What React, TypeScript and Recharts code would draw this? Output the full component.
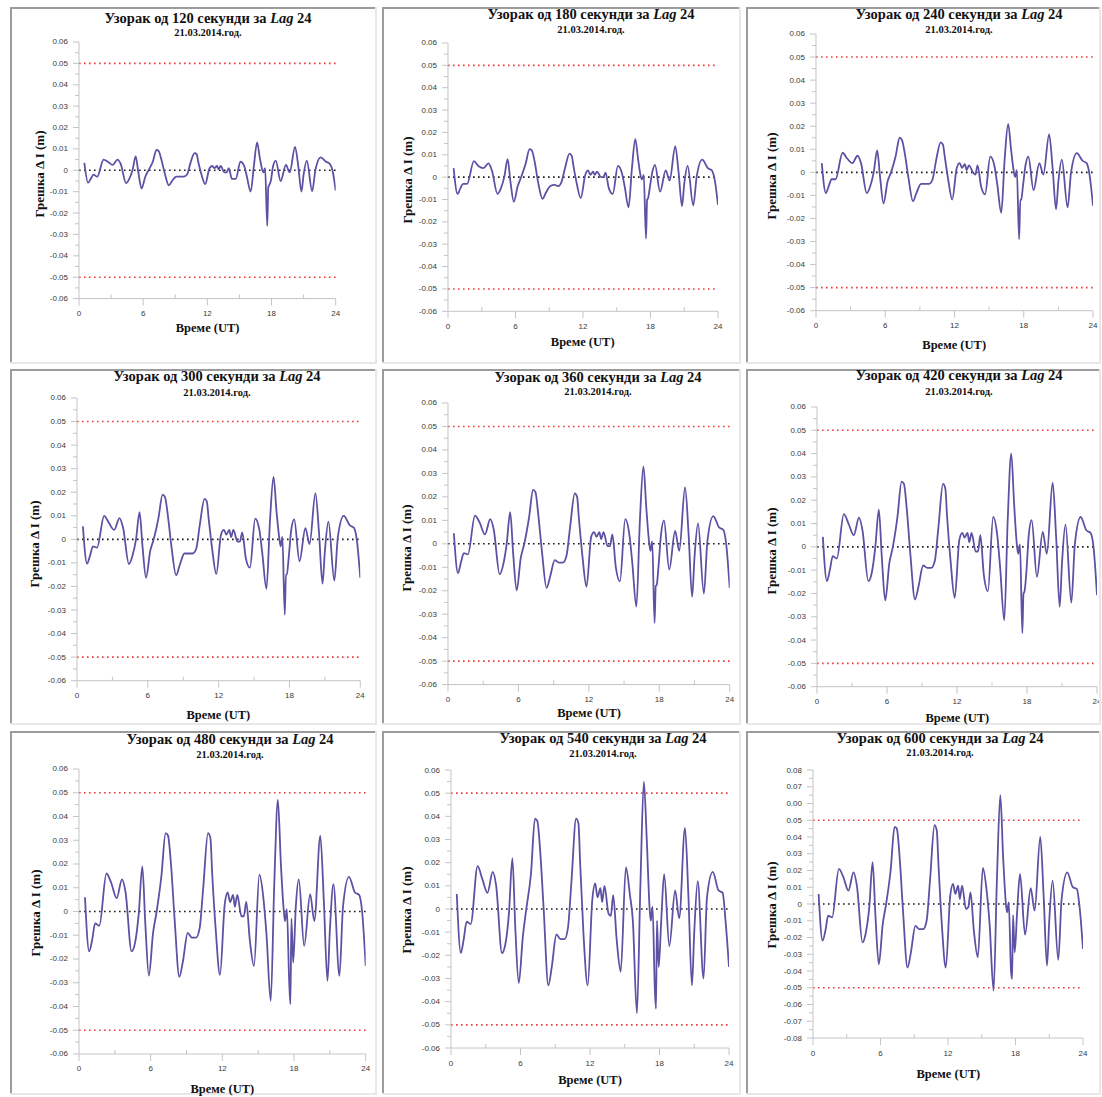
import { LineChart, Line, XAxis, YAxis, ReferenceLine } from 'recharts'

// hours (UT) shared by all series
const hours = [
  0.5, 0.85, 1.1, 1.35, 1.7, 2.3, 2.7, 3.15, 3.6, 3.9,
  4.4, 4.7, 5.0, 5.3, 5.55, 5.85, 6.2, 6.5, 6.9, 7.25,
  7.45, 7.7, 8.0, 8.4, 8.7, 9.1, 9.45, 9.8, 10.1, 10.4,
  10.8, 11.0, 11.15, 11.45, 11.8, 12.2, 12.45, 12.65, 12.9, 13.05,
  13.25, 13.6, 13.8, 14.0, 14.3, 14.65, 15.1, 15.45, 15.7, 16.05,
  16.35, 16.65, 16.9, 17.15, 17.25, 17.4, 17.6, 17.7, 17.78, 17.93,
  18.15, 18.4, 18.85, 19.35, 19.7, 20.2, 20.5, 20.8, 21.0, 21.3,
  21.8, 22.1, 22.6, 23.1, 23.45, 23.7, 24.0,
]

const s120 = [
  0.0035, -0.0058, -0.004, -0.002, -0.003, 0.005, 0.004, 0.0025, 0.005, 0.003,
  -0.006, -0.004, 0.0, 0.0065, -0.001, -0.0085, -0.003, 0.0, 0.004, 0.0095,
  0.009, 0.005, -0.001, -0.007, -0.005, -0.003, -0.003, -0.003, -0.002, 0.003,
  0.008, 0.0075, 0.004, -0.002, -0.0065, 0.001, 0.002, 0.001, 0.002, 0.0005,
  0.002, -0.001, -0.001, 0.001, -0.004, -0.004, 0.004, 0.002, -0.003, -0.01,
  0.002, 0.013, 0.006, 0.0, -0.001, 0.001, -0.026, -0.008, -0.007, -0.005,
  0.002, 0.0045, -0.005, 0.0025, -0.001, 0.011, 0.002, -0.01, -0.002, 0.0045,
  -0.0098, 0.0, 0.006, 0.004, 0.003, 0.0, -0.0095,
]

const s180 = [
  0.004, -0.0075, -0.005, -0.003, -0.003, 0.0072, 0.005, 0.004, 0.0062, 0.003,
  -0.0075, -0.005, 0.0, 0.008, -0.002, -0.011, -0.004, 0.0, 0.006, 0.0125,
  0.012, 0.007, -0.002, -0.0097, -0.007, -0.004, -0.0035, -0.004, -0.002, 0.004,
  0.0105, 0.0095, 0.005, -0.003, -0.0094, 0.001, 0.003, 0.001, 0.0025, 0.001,
  0.0025, 0.0, 0.0, 0.002, -0.005, -0.0075, 0.005, 0.002, -0.004, -0.0135,
  0.004, 0.017, 0.008, 0.0, -0.001, 0.001, -0.0275, -0.01, -0.0095, -0.005,
  0.002, 0.0055, -0.0065, 0.003, -0.0015, 0.0138, 0.002, -0.013, -0.003, 0.005,
  -0.0127, 0.0, 0.0078, 0.004, 0.003, -0.001, -0.0124,
]

const s240 = [
  0.004, -0.009, -0.006, -0.003, -0.003, 0.0085, 0.006, 0.004, 0.0072, 0.004,
  -0.009, -0.006, 0.0, 0.0095, -0.002, -0.0135, -0.004, 0.0, 0.007, 0.015,
  0.014, 0.008, -0.002, -0.0125, -0.009, -0.005, -0.005, -0.005, -0.003, 0.005,
  0.013, 0.012, 0.007, -0.003, -0.0118, 0.002, 0.004, 0.002, 0.0035, 0.001,
  0.003, 0.0, -0.001, 0.003, -0.006, -0.0095, 0.0068, 0.003, -0.005, -0.0175,
  0.006, 0.021, 0.01, 0.0, -0.002, 0.001, -0.029, -0.012, -0.012, -0.006,
  0.003, 0.0068, -0.0078, 0.004, -0.001, 0.0165, 0.002, -0.016, -0.004, 0.0055,
  -0.0152, 0.0, 0.0083, 0.005, 0.004, -0.001, -0.0145,
]

const s300 = [
  0.0055, -0.0103, -0.007, -0.003, -0.0035, 0.01, 0.007, 0.004, 0.009, 0.005,
  -0.0105, -0.007, 0.0, 0.0115, -0.003, -0.0163, -0.005, 0.0, 0.009, 0.019,
  0.018, 0.01, -0.003, -0.0152, -0.011, -0.006, -0.006, -0.006, -0.004, 0.006,
  0.0172, 0.016, 0.009, -0.004, -0.0147, 0.002, 0.004, 0.002, 0.004, 0.001,
  0.004, -0.001, -0.001, 0.003, -0.008, -0.012, 0.0088, 0.004, -0.006, -0.021,
  0.008, 0.0265, 0.012, 0.0, -0.003, 0.001, -0.032, -0.015, -0.015, -0.008,
  0.004, 0.0085, -0.0093, 0.0048, -0.002, 0.0195, 0.003, -0.0188, -0.005, 0.0075,
  -0.0175, 0.001, 0.01, 0.006, 0.005, 0.0, -0.0163,
]

const s360 = [
  0.0045, -0.0125, -0.008, -0.004, -0.0045, 0.012, 0.009, 0.004, 0.0105, 0.006,
  -0.013, -0.009, 0.0, 0.0135, -0.004, -0.0198, -0.006, 0.0, 0.011, 0.023,
  0.022, 0.012, -0.003, -0.0188, -0.014, -0.007, -0.008, -0.008, -0.005, 0.007,
  0.0215, 0.02, 0.011, -0.005, -0.0183, 0.003, 0.005, 0.003, 0.005, 0.002,
  0.005, -0.001, -0.001, 0.004, -0.01, -0.016, 0.0105, 0.004, -0.008, -0.0268,
  0.01, 0.033, 0.015, 0.0, -0.003, 0.001, -0.0337, -0.018, -0.0176, -0.01,
  0.004, 0.01, -0.011, 0.0055, -0.003, 0.024, 0.004, -0.0226, -0.006, 0.0087,
  -0.0212, 0.001, 0.0118, 0.007, 0.006, 0.0, -0.0188,
]

const s420 = [
  0.0043, -0.0147, -0.01, -0.004, -0.005, 0.014, 0.01, 0.005, 0.0125, 0.007,
  -0.0147, -0.011, 0.0, 0.016, -0.004, -0.023, -0.007, 0.0, 0.013, 0.028,
  0.027, 0.016, -0.003, -0.0226, -0.017, -0.008, -0.009, -0.009, -0.006, 0.008,
  0.027, 0.025, 0.013, -0.006, -0.0219, 0.003, 0.006, 0.004, 0.006, 0.002,
  0.006, -0.002, -0.002, 0.005, -0.012, -0.019, 0.0128, 0.005, -0.009, -0.0315,
  0.012, 0.04, 0.018, 0.0, -0.003, 0.001, -0.037, -0.02, -0.0193, -0.012,
  0.005, 0.0115, -0.0129, 0.0064, -0.003, 0.0275, 0.004, -0.0257, -0.007, 0.0095,
  -0.0239, 0.001, 0.0128, 0.007, 0.006, 0.0, -0.0207,
]

const s480 = [
  0.006, -0.0168, -0.012, -0.005, -0.006, 0.016, 0.012, 0.0056, 0.0135, 0.008,
  -0.0168, -0.013, -0.001, 0.019, -0.005, -0.027, -0.009, 0.0, 0.015, 0.033,
  0.032, 0.02, -0.003, -0.0275, -0.021, -0.009, -0.011, -0.011, -0.007, 0.01,
  0.033, 0.031, 0.016, -0.008, -0.0267, 0.003, 0.008, 0.004, 0.007, 0.002,
  0.007, -0.002, -0.002, 0.004, -0.012, -0.0229, 0.0155, 0.005, -0.01, -0.0376,
  0.012, 0.047, 0.02, 0.0, -0.004, 0.001, -0.03, -0.039, -0.003, -0.0215,
  0.002, 0.0135, -0.0145, 0.0073, -0.004, 0.0319, 0.004, -0.0292, -0.008, 0.0115,
  -0.0271, 0.002, 0.0146, 0.008, 0.007, 0.0, -0.0229,
]

const s540 = [
  0.0065, -0.019, -0.013, -0.0055, -0.0065, 0.0185, 0.013, 0.007, 0.016, 0.01,
  -0.019, -0.015, -0.002, 0.022, -0.008, -0.032, -0.012, 0.0, 0.015, 0.039,
  0.038, 0.025, 0.0, -0.033, -0.025, -0.011, -0.013, -0.013, -0.008, 0.012,
  0.039, 0.037, 0.02, -0.012, -0.033, 0.004, 0.011, 0.005, 0.009, 0.003,
  0.01, -0.002, -0.003, 0.006, -0.013, -0.027, 0.018, 0.006, -0.005, -0.045,
  0.01, 0.055, 0.03, 0.0, -0.005, 0.001, -0.035, -0.043, -0.005, -0.025,
  -0.005, 0.015, -0.016, 0.008, -0.004, 0.035, 0.005, -0.033, -0.01, 0.012,
  -0.03, 0.005, 0.016, 0.008, 0.007, -0.005, -0.025,
]

const s600 = [
  0.006, -0.0219, -0.016, -0.007, -0.008, 0.021, 0.016, 0.008, 0.0189, 0.011,
  -0.0229, -0.017, -0.002, 0.025, -0.007, -0.036, -0.012, 0.0, 0.02, 0.046,
  0.045, 0.028, -0.004, -0.038, -0.029, -0.013, -0.015, -0.015, -0.01, 0.014,
  0.047, 0.044, 0.024, -0.012, -0.038, 0.005, 0.012, 0.006, 0.011, 0.003,
  0.011, -0.003, -0.002, 0.007, -0.016, -0.0318, 0.0215, 0.007, -0.012, -0.0517,
  0.015, 0.065, 0.028, 0.0, -0.005, 0.001, -0.04, -0.0448, -0.0066, -0.0289,
  -0.004, 0.0179, -0.0183, 0.0094, -0.004, 0.04, 0.005, -0.0368, -0.01, 0.0139,
  -0.0334, 0.003, 0.0189, 0.01, 0.009, -0.002, -0.0269,
]

const sampleSeconds = [120, 180, 240, 300, 360, 420, 480, 540, 600]
const seriesList = [s120, s180, s240, s300, s360, s420, s480, s540, s600]

const xMajor = [0, 6, 12, 18, 24]
const xMinor = [3, 9, 15, 21]
const yMajor6 = [-0.06, -0.05, -0.04, -0.03, -0.02, -0.01, 0, 0.01, 0.02, 0.03, 0.04, 0.05, 0.06]
const yMinor6 = [-0.055, -0.045, -0.035, -0.025, -0.015, -0.005, 0.005, 0.015, 0.025, 0.035, 0.045, 0.055]
const yMajor8 = [-0.08, -0.07, -0.06, -0.05, -0.04, -0.03, -0.02, -0.01, 0, 0.01, 0.02, 0.03, 0.04, 0.05, 0.06, 0.07, 0.08]
const yMinor8 = [-0.075, -0.065, -0.055, -0.045, -0.035, -0.025, -0.015, -0.005, 0.005, 0.015, 0.025, 0.035, 0.045, 0.055, 0.065, 0.075]
// tick labels of the last panel as printed (0.06 reads "0.00" there)
const yText8 = ['-0.08', '-0.07', '-0.06', '-0.05', '-0.04', '-0.03', '-0.02', '-0.01', '0', '0.01', '0.02', '0.03', '0.04', '0.05', '0.00', '0.07', '0.08']
const limitValues = [-0.05, 0.05]

const LINE = '#5b52a3'
const AXIS = '#c4c4c4'
const TICK_TEXT = '#3a3a3a'
const SERIF = "'Liberation Serif', 'Times New Roman', serif"
const SANS = "'Liberation Sans', Arial, sans-serif"

// page layout of each panel: frame box and plot area (x at 0h / 24h, y at top / bottom of range)
const panels = [
  { box: [10, 7, 377, 364], x0: 79.3, x1: 336, yT: 41.7, yB: 298.3, tx: 208, ty: 23, sy: 36, lx: 39, ly: 174, xl: 328 },
  { box: [382, 7, 741, 364], x0: 447.7, x1: 717.7, yT: 42.7, yB: 311, tx: 591, ty: 19, sy: 32.5, lx: 407, ly: 180, xl: 341.5 },
  { box: [746, 7, 1101, 364], x0: 815.7, x1: 1092.7, yT: 34.3, yB: 311, tx: 959, ty: 19, sy: 33.3, lx: 771.5, ly: 176, xl: 344.5 },
  { box: [10, 369, 377, 725], x0: 76.7, x1: 360, yT: 398.3, yB: 681, tx: 217, ty: 380.5, sy: 395.5, lx: 34, ly: 544, xl: 714.5 },
  { box: [382, 369, 741, 725], x0: 448.3, x1: 730, yT: 402.7, yB: 684.3, tx: 598, ty: 381.5, sy: 395, lx: 406.5, ly: 548, xl: 713 },
  { box: [746, 369, 1101, 725], x0: 817.3, x1: 1097.3, yT: 407, yB: 686.7, tx: 959, ty: 380, sy: 395, lx: 771, ly: 551, xl: 718 },
  { box: [10, 731, 377, 1095], x0: 79, x1: 365.7, yT: 768.7, yB: 1053.7, tx: 230, ty: 743.5, sy: 757.5, lx: 35, ly: 913, xl: 1088.5 },
  { box: [382, 731, 741, 1095], x0: 451, x1: 729, yT: 769.7, yB: 1047.7, tx: 603, ty: 743, sy: 757, lx: 406.5, ly: 910, xl: 1079.5 },
  { box: [746, 731, 1101, 1095], x0: 813.3, x1: 1083.3, yT: 769.7, yB: 1037.7, tx: 940, ty: 743, sy: 756.3, lx: 771.5, ly: 905, xl: 1073.5 },
]

const L = 60
const R = 12
const T = 10
const B = 40

const near = (a: number, b: number) => Math.abs(a - b) < 1e-9

function Panel({ index }: { index: number }) {
  const p = panels[index]
  const values = seriesList[index]
  const wide = index === 8
  const majors = wide ? yMajor8 : yMajor6
  const minors = wide ? yMinor8 : yMinor6
  const yTicks = [...majors, ...minors].sort((a, b) => a - b)
  const xTicks = [...xMajor, ...xMinor].sort((a, b) => a - b)
  const plotW = p.x1 - p.x0
  const plotH = p.yB - p.yT
  const axisY = T + plotH
  const data = hours.map((h, i) => ({ h, v: values[i] }))

  const renderXTick = (props: any) => {
    const v = props.payload.value
    const x = props.x
    if (xMajor.includes(v)) {
      return (
        <g>
          <line x1={x} x2={x} y1={axisY} y2={axisY + 7} stroke={AXIS} />
          <text x={x} y={axisY + 15} textAnchor="middle" dominantBaseline="central" fontSize={8} fontFamily={SANS} fill={TICK_TEXT}>
            {String(v)}
          </text>
        </g>
      )
    }
    return <line x1={x} x2={x} y1={axisY} y2={axisY - 4} stroke={AXIS} />
  }

  const renderYTick = (props: any) => {
    const v = props.payload.value
    const y = props.y
    const mi = majors.findIndex((m) => near(m, v))
    if (mi >= 0) {
      const label = wide ? yText8[mi] : v === 0 ? '0' : v.toFixed(2)
      return (
        <g>
          <line x1={L - 6} x2={L} y1={y} y2={y} stroke={AXIS} />
          <text x={L - 11} y={y} textAnchor="end" dominantBaseline="central" fontSize={8} fontFamily={SANS} fill={TICK_TEXT}>
            {label}
          </text>
        </g>
      )
    }
    return <line x1={L - 4} x2={L} y1={y} y2={y} stroke={AXIS} />
  }

  return (
    <div style={{ position: 'absolute', left: p.x0 - L, top: p.yT - T }}>
      <LineChart width={L + plotW + R} height={T + plotH + B} data={data} margin={{ top: T, right: R, bottom: 0, left: 0 }}>
        <XAxis
          type="number"
          dataKey="h"
          domain={[0, 24]}
          ticks={xTicks}
          interval={0}
          height={B}
          tickLine={false}
          axisLine={{ stroke: AXIS }}
          tick={renderXTick}
          allowDataOverflow
        />
        <YAxis
          type="number"
          domain={[majors[0], majors[majors.length - 1]]}
          ticks={yTicks}
          interval={0}
          width={L}
          tickLine={false}
          axisLine={{ stroke: AXIS }}
          tick={renderYTick}
          allowDataOverflow
        />
        {limitValues.map((lv) => (
          <ReferenceLine key={lv} y={lv} stroke="#f03a3a" strokeWidth={1.6} strokeDasharray="1.6 3.4" />
        ))}
        <ReferenceLine y={0} stroke="#1a1a1a" strokeWidth={1.6} strokeDasharray="1.6 3.4" />
        <Line type="monotone" dataKey="v" stroke={LINE} strokeWidth={1.8} dot={false} isAnimationActive={false} />
      </LineChart>
    </div>
  )
}

function Overlay() {
  return (
    <svg width={1102} height={1097} style={{ position: 'absolute', left: 0, top: 0, pointerEvents: 'none' }}>
      {panels.map((p, i) => {
        const [l, t, r, b] = p.box
        const cx = (p.x0 + p.x1) / 2
        return (
          <g key={i}>
            <line x1={l} x2={r} y1={b - 1} y2={b - 1} stroke="#e8e8e8" strokeWidth={2} />
            <line x1={r - 1} x2={r - 1} y1={t} y2={b} stroke="#e8e8e8" strokeWidth={2} />
            <line x1={l} x2={r - 2} y1={t + 1} y2={t + 1} stroke="#9c9c9c" strokeWidth={2} />
            <line x1={l + 1} x2={l + 1} y1={t} y2={b - 2} stroke="#9c9c9c" strokeWidth={2} />
            <text x={p.tx} y={p.ty} textAnchor="middle" fontFamily={SERIF} fontWeight="bold" fontSize={14.5} fill="#111">
              Узорак од {sampleSeconds[i]} секунди за{' '}
              <tspan fontStyle="italic">Lag</tspan> 24
            </text>
            <text x={p.tx} y={p.sy} textAnchor="middle" fontFamily={SERIF} fontWeight="bold" fontSize={10.5} fill="#111">
              21.03.2014.год.
            </text>
            <text
              x={p.lx}
              y={p.ly}
              transform={`rotate(-90 ${p.lx} ${p.ly})`}
              textAnchor="middle"
              dominantBaseline="central"
              fontFamily={SERIF}
              fontWeight="bold"
              fontSize={13}
              fill="#111"
            >
              Грешка Δ I (m)
            </text>
            <text x={cx} y={p.xl} textAnchor="middle" dominantBaseline="central" fontFamily={SERIF} fontWeight="bold" fontSize={12.5} fill="#111">
              Време (UT)
            </text>
          </g>
        )
      })}
    </svg>
  )
}

export default function App() {
  return (
    <div style={{ position: 'absolute', left: 0, top: 0, width: 1102, height: 1097, background: '#fff' }}>
      {panels.map((_, i) => (
        <Panel key={i} index={i} />
      ))}
      <Overlay />
    </div>
  )
}
